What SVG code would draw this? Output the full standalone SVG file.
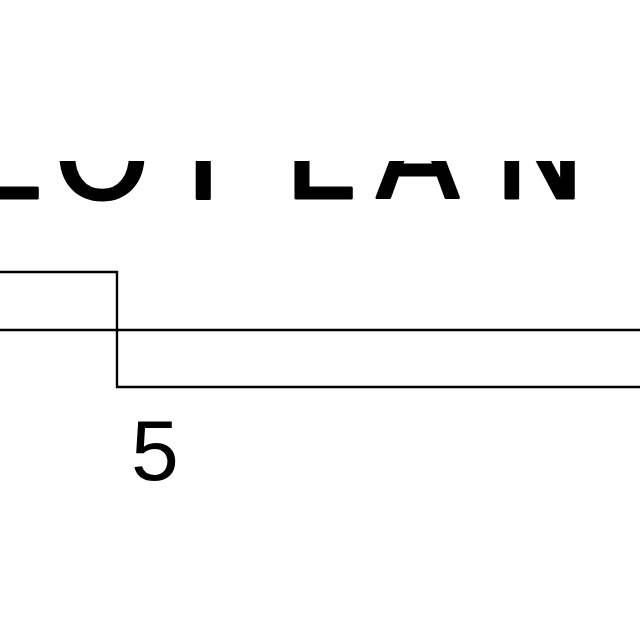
<svg xmlns="http://www.w3.org/2000/svg" width="640" height="640" viewBox="0 0 640 640">
<style>
.ln{fill:none;stroke:#000;stroke-width:2.4}
.title{font-family:"DejaVu Sans",sans-serif;font-weight:normal;font-size:122px;fill:#000;stroke:#000;stroke-width:3;stroke-linejoin:round}
.num{font-family:"Liberation Sans",Arial,sans-serif;font-size:86px;fill:#000}
</style>
<defs><clipPath id="c"><rect x="0" y="161" width="640" height="60"/></clipPath></defs>
<rect width="640" height="640" fill="#fff"/>
<g id="title" clip-path="url(#c)">
<text class="title" x="-30 54 166 284 376 494" y="198">LOTLAN</text>
</g>
<g id="connectors">
<path class="ln" d="M0 330H640"/>
<path class="ln" d="M0 272H117V387H640"/>
</g>
<g id="label"><text class="num" x="131" y="480">5</text></g>
</svg>
